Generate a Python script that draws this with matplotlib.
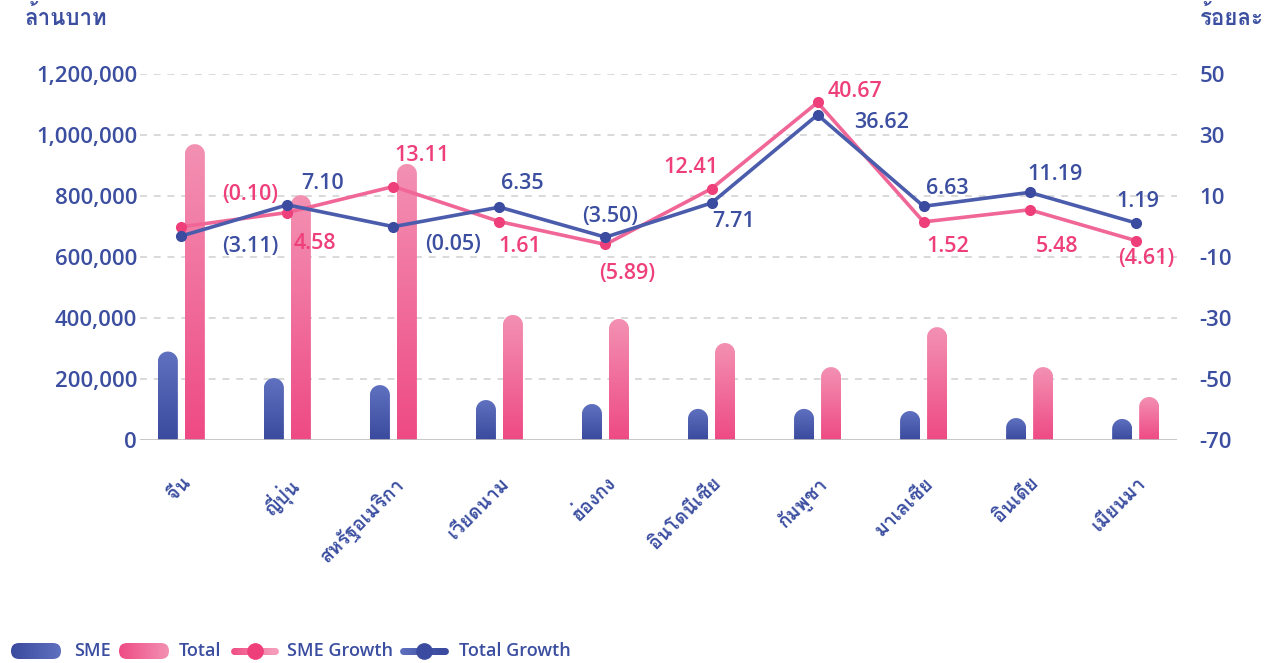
import numpy as np
import matplotlib
matplotlib.use("Agg")
import matplotlib.pyplot as plt
from matplotlib import font_manager
from matplotlib.ft2font import FT2Font
from matplotlib.colors import LinearSegmentedColormap
from matplotlib.patches import PathPatch, FancyBboxPatch
from matplotlib.path import Path
from matplotlib.collections import LineCollection

# ---------------- data ----------------
countries = ["จีน", "ญี่ปุ่น", "สหรัฐอเมริกา", "เวียดนาม", "ฮ่องกง",
             "อินโดนีเซีย", "กัมพูชา", "มาเลเซีย", "อินเดีย", "เมียนมา"]
sme_value = [290000, 203000, 180000, 131000, 118000,
             102000, 102000, 95000, 72000, 69000]
total_value = [970000, 803000, 905000, 410000, 397000,
               318000, 239000, 370000, 239000, 141000]
sme_growth = [-0.10, 4.58, 13.11, 1.61, -5.89, 12.41, 40.67, 1.52, 5.48, -4.61]
total_growth = [-3.11, 7.10, -0.05, 6.35, -3.50, 7.71, 36.62, 6.63, 11.19, 1.19]
left_ticks = [0, 200000, 400000, 600000, 800000, 1000000, 1200000]
right_ticks = [-70, -50, -30, -10, 10, 30, 50]

# label offsets in pixels (dx, dy), dy measured downward
sme_label_offset = [(69, -32), (27, 31), (29, -31), (20, 25), (22, 29),
                    (-21, -21), (37, -11), (24, 25), (27, 37), (11, 18)]
total_label_offset = [(69, 11), (35, -21), (60, 18), (23, -24), (5, -21),
                      (22, 19), (64, 8), (24, -18), (25, -18), (2, -21)]

# ---------------- fonts ----------------
def find_thai_family():
    for f in font_manager.fontManager.ttflist:
        try:
            if 0x0E01 in FT2Font(f.fname).get_charmap():
                return f.name
        except Exception:
            continue
    return None

thai = find_thai_family()
families = ["Open Sans"] + ([thai] if thai else []) + ["DejaVu Sans"]
plt.rcParams["font.family"] = families
plt.rcParams["axes.unicode_minus"] = False

BLUE_TXT = "#3b4ea0"
PINK_TXT = "#ee3f7a"

W, H, DPI = 1264, 663, 100
fig = plt.figure(figsize=(W / DPI, H / DPI), dpi=DPI)
fig.patch.set_facecolor("white")

ax_l, ax_r, ax_b, ax_t = 140, 1177, 440, 74
ax = fig.add_axes([ax_l / W, 1 - ax_b / H, (ax_r - ax_l) / W, (ax_b - ax_t) / H])
x_lo, x_hi = -0.39, 9.39
y_lo, y_hi = 0, 1200000
ax.set_xlim(x_lo, x_hi)
ax.set_ylim(y_lo, y_hi)

px_per_x = (ax_r - ax_l) / (x_hi - x_lo)
px_per_y = (ax_b - ax_t) / (y_hi - y_lo)

sme_cmap = LinearSegmentedColormap.from_list("sme", ["#3a4a9e", "#5f71bf"])
tot_cmap = LinearSegmentedColormap.from_list("tot", ["#ee4a83", "#f391b3"])

bar_w_px = 20
offset_px = 13.5


def rounded_bar(xc, h, cmap, z=2):
    rx = bar_w_px / 2 / px_per_x
    ry = bar_w_px / 2 / px_per_y
    x0, x1 = xc - rx, xc + rx
    th = np.linspace(np.pi, 0, 40)
    xs = np.concatenate([[x0], xc + rx * np.cos(th), [x1, x0]])
    ys = np.concatenate([[0], (h - ry) + ry * np.sin(th), [0, 0]])
    verts = np.column_stack([xs, ys])
    codes = [Path.MOVETO] + [Path.LINETO] * (len(verts) - 2) + [Path.CLOSEPOLY]
    patch = PathPatch(Path(verts, codes), facecolor="none", edgecolor="none")
    ax.add_patch(patch)
    grad = np.linspace(0, 1, 256).reshape(-1, 1)
    im = ax.imshow(grad, extent=(x0, x1, 0, h), origin="lower", cmap=cmap,
                   aspect="auto", zorder=z, interpolation="bilinear")
    im.set_clip_path(patch)


x = np.arange(len(countries))
for i in x:
    rounded_bar(i - offset_px / px_per_x, sme_value[i], sme_cmap)
    rounded_bar(i + offset_px / px_per_x, total_value[i], tot_cmap)

ax.set_xlim(x_lo, x_hi)
ax.set_ylim(y_lo, y_hi)

# grid + baseline
ax.set_yticks(left_ticks)
ax.set_yticklabels([f"{v:,}" for v in left_ticks])
for v in left_ticks[1:]:
    ax.axhline(v, color="#cfcfcf", lw=1.1, ls=(0, (4.5, 4.5)), zorder=0.5)
ax.axhline(0, color="#bdbdbd", lw=1.2, zorder=3)
for s in ax.spines.values():
    s.set_visible(False)
ax.tick_params(axis="y", length=0, pad=2, labelsize=16, labelcolor=BLUE_TXT)
for t in ax.get_yticklabels():
    t.set_fontweight("semibold")

ax.set_xticks(x)
ax.set_xticklabels(countries, rotation=45, ha="right", va="top",
                   rotation_mode="anchor", fontsize=14, color=BLUE_TXT,
                   fontweight="bold")
ax.tick_params(axis="x", length=0, pad=24)

# growth lines on the secondary axis
ax2 = ax.twinx()
ax2.set_ylim(-70, 50)
ax2.set_yticks(right_ticks)
ax2.set_yticklabels([str(v) for v in right_ticks])
ax2.yaxis.set_tick_params(which="major", length=0, pad=16, labelsize=16,
                          labelcolor=BLUE_TXT)
for t in ax2.get_yticklabels():
    t.set_fontweight("semibold")
for s in ax2.spines.values():
    s.set_visible(False)
ax2.set_xlim(x_lo, x_hi)

ax2.plot(x, sme_growth, color="#f06797", lw=2.6, zorder=4,
         marker="o", ms=7, mfc="#ee3f7a", mec="#ee3f7a")
ax2.plot(x, total_growth, color="#4a5cab", lw=2.6, zorder=5,
         marker="o", ms=7, mfc="#3a4ba0", mec="#3a4ba0")


def fmt(v):
    return f"({abs(v):.2f})" if v < 0 else f"{v:.2f}"


for i in x:
    dx, dy = sme_label_offset[i]
    ax2.annotate(fmt(sme_growth[i]), (i, sme_growth[i]), xytext=(dx, -dy),
                 textcoords="offset pixels", ha="center", va="center",
                 fontsize=15.5, color=PINK_TXT, fontweight="semibold", zorder=6)
    dx, dy = total_label_offset[i]
    ax2.annotate(fmt(total_growth[i]), (i, total_growth[i]), xytext=(dx, -dy),
                 textcoords="offset pixels", ha="center", va="center",
                 fontsize=15.5, color=BLUE_TXT, fontweight="semibold", zorder=6)

# axis unit captions
fig.text(107 / W, 1 - 18 / H, "ล้านบาท", ha="right", va="center",
         fontsize=16, color=BLUE_TXT, fontweight="bold")
fig.text(1200 / W, 1 - 18 / H, "ร้อยละ", ha="left", va="center",
         fontsize=16, color=BLUE_TXT, fontweight="bold")

# ---------------- legend ----------------
lax = fig.add_axes([0, 0, 1, 1], zorder=10)
lax.set_xlim(0, W)
lax.set_ylim(H, 0)
lax.axis("off")
lax.patch.set_alpha(0)

ly = 651
base = 656


def legend_pill(x0, x1, cmap):
    hgt = 16
    pad = hgt / 2
    box = FancyBboxPatch((x0 + pad, ly - hgt / 2 + pad), (x1 - x0) - 2 * pad, hgt - 2 * pad,
                         boxstyle=f"round,pad={pad}", facecolor="none", edgecolor="none")
    lax.add_patch(box)
    grad = np.linspace(0, 1, 256).reshape(1, -1)
    im = lax.imshow(grad, extent=(x0, x1, ly + hgt / 2, ly - hgt / 2), cmap=cmap,
                    aspect="auto", interpolation="bilinear")
    im.set_clip_path(box)


def legend_line(x0, x1, c_left, c_right, c_dot):
    xs = np.linspace(x0, x1, 30)
    segs = [[(xs[k], ly), (xs[k + 1], ly)] for k in range(len(xs) - 1)]
    cm = LinearSegmentedColormap.from_list("l", [c_left, c_right])
    lc = LineCollection(segs, colors=[cm(k / (len(segs) - 1)) for k in range(len(segs))],
                        linewidths=5, capstyle="round")
    lax.add_collection(lc)
    lax.plot([(x0 + x1) / 2], [ly], "o", ms=11, color=c_dot)


legend_style = dict(fontsize=13, color=BLUE_TXT, fontweight="semibold",
                    ha="left", va="baseline")
legend_pill(11, 61, sme_cmap)
lax.text(74, base, "SME", **legend_style)
legend_pill(119, 169, tot_cmap)
lax.text(179, base, "Total", **legend_style)
legend_line(234, 275, "#ef4f86", "#f59ab9", "#ee3f7a")
lax.text(287, base, "SME Growth", **legend_style)
legend_line(403, 445, "#5d6fbd", "#3a4ba0", "#3a4ba0")
lax.text(459, base, "Total Growth", **legend_style)
lax.set_xlim(0, W)
lax.set_ylim(H, 0)

fig.savefig("out.png", dpi=DPI)
